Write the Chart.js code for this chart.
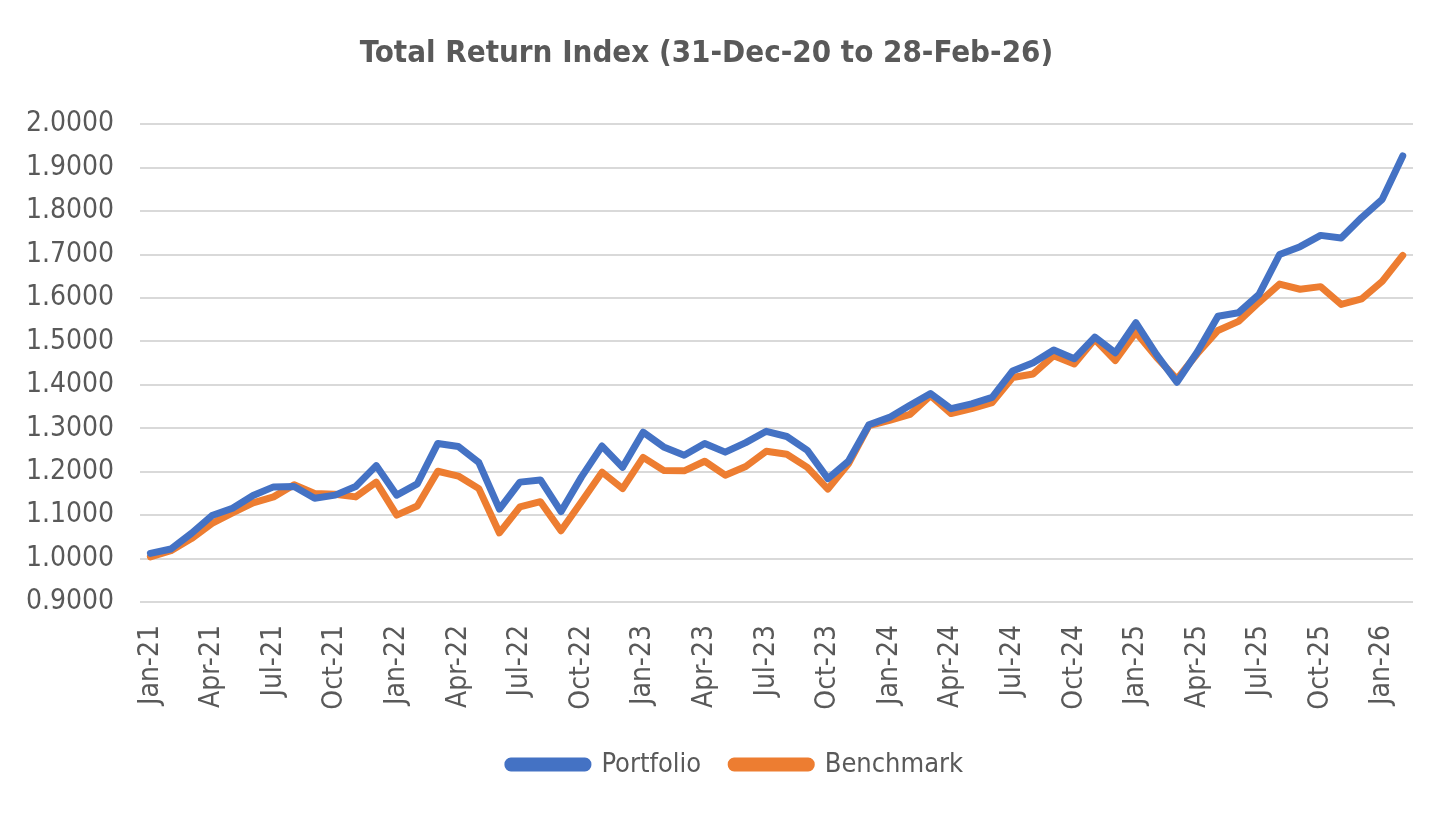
<!DOCTYPE html>
<html lang="en">
<head>
    <meta charset="UTF-8">
    <title>Total Return Index</title>
    <script src="https://cdn.jsdelivr.net/npm/chart.js"></script>
    <style>
        body { margin: 0; background: #fff; }
        #wrap { width: 1456px; height: 816px; }
    </style>
</head>
<body>
    <div id="wrap"><canvas id="chartCanvas"></canvas></div>

    <script>
        // monthly month-end points, Jan-21 .. Feb-26
        const months = [
            'Jan-21','Feb-21','Mar-21','Apr-21','May-21','Jun-21','Jul-21','Aug-21','Sep-21','Oct-21','Nov-21','Dec-21',
            'Jan-22','Feb-22','Mar-22','Apr-22','May-22','Jun-22','Jul-22','Aug-22','Sep-22','Oct-22','Nov-22','Dec-22',
            'Jan-23','Feb-23','Mar-23','Apr-23','May-23','Jun-23','Jul-23','Aug-23','Sep-23','Oct-23','Nov-23','Dec-23',
            'Jan-24','Feb-24','Mar-24','Apr-24','May-24','Jun-24','Jul-24','Aug-24','Sep-24','Oct-24','Nov-24','Dec-24',
            'Jan-25','Feb-25','Mar-25','Apr-25','May-25','Jun-25','Jul-25','Aug-25','Sep-25','Oct-25','Nov-25','Dec-25',
            'Jan-26','Feb-26'
        ];

        const portfolio = [
            1.012, 1.022, 1.058, 1.099, 1.116, 1.145, 1.165, 1.166, 1.139, 1.146, 1.166, 1.214,
            1.146, 1.172, 1.265, 1.258, 1.221, 1.114, 1.176, 1.181, 1.108, 1.188, 1.259, 1.210,
            1.291, 1.257, 1.238, 1.265, 1.245, 1.267, 1.293, 1.281, 1.249, 1.184, 1.224, 1.308,
            1.325, 1.353, 1.380, 1.345, 1.356, 1.371, 1.432, 1.451, 1.480, 1.460, 1.510, 1.474,
            1.543, 1.470, 1.406, 1.476, 1.558, 1.566, 1.608, 1.700, 1.718, 1.744, 1.738, 1.785,
            1.827, 1.927
        ];

        const benchmark = [
            1.004, 1.018, 1.046, 1.081, 1.105, 1.128, 1.142, 1.170, 1.150, 1.148, 1.142, 1.176,
            1.100, 1.121, 1.201, 1.190, 1.161, 1.059, 1.119, 1.131, 1.064, 1.131, 1.199, 1.161,
            1.233, 1.203, 1.202, 1.224, 1.192, 1.212, 1.247, 1.240, 1.210, 1.160, 1.218, 1.306,
            1.318, 1.332, 1.375, 1.334, 1.345, 1.359, 1.417, 1.425, 1.467, 1.448, 1.505, 1.456,
            1.521, 1.464, 1.413, 1.472, 1.525, 1.546, 1.590, 1.632, 1.620, 1.626, 1.585, 1.598,
            1.638, 1.698
        ];

        const FONT = '"Liberation Sans Narrow", "Arial Narrow", "DejaVu Sans Condensed", "Liberation Sans", sans-serif';
        const TEXT = '#595959';

        // nudge the legend a little to the right, like the original
        const legendShift = {
            id: 'legendShift',
            afterLayout(chart) {
                chart.legend.left += 29;
                chart.legend.right += 29;
            }
        };

        const ctx = document.getElementById('chartCanvas').getContext('2d');
        new Chart(ctx, {
            type: 'line',
            data: {
                labels: months,
                datasets: [
                    {
                        label: 'Portfolio',
                        data: portfolio,
                        borderColor: '#4472C4',
                        backgroundColor: '#4472C4',
                        borderWidth: 7,
                        pointRadius: 0,
                        borderJoinStyle: 'round',
                        borderCapStyle: 'round',
                        fill: false
                    },
                    {
                        label: 'Benchmark',
                        data: benchmark,
                        borderColor: '#ED7D31',
                        backgroundColor: '#ED7D31',
                        borderWidth: 7,
                        pointRadius: 0,
                        borderJoinStyle: 'round',
                        borderCapStyle: 'round',
                        fill: false
                    }
                ]
            },
            plugins: [legendShift],
            options: {
                responsive: true,
                maintainAspectRatio: false,
                animation: false,
                layout: { padding: { top: 18, left: 0, right: 43, bottom: 28 } },
                plugins: {
                    title: {
                        display: true,
                        text: 'Total Return Index (31-Dec-20 to 28-Feb-26)',
                        color: TEXT,
                        font: { family: FONT, size: 31, weight: 'bold' },
                        padding: { top: 17, bottom: 52 }
                    },
                    legend: {
                        position: 'bottom',
                        labels: {
                            color: TEXT,
                            font: { family: FONT, size: 27 },
                            boxWidth: 80,
                            boxHeight: 7,
                            useBorderRadius: true,
                            borderRadius: 3,
                            padding: 30
                        }
                    },
                    tooltip: { enabled: false }
                },
                scales: {
                    x: {
                        offset: true,
                        grid: { display: false },
                        border: { display: false },
                        afterFit: function (scale) {
                            // rotated labels should not shrink the plot sideways
                            scale.paddingLeft = 0;
                            scale.paddingRight = 0;
                            scale.height = 119;
                        },
                        ticks: {
                            autoSkip: false,
                            maxRotation: 90,
                            minRotation: 90,
                            padding: 15,
                            color: TEXT,
                            font: { family: FONT, size: 28 },
                            callback: function (val, i) {
                                return i % 3 === 0 ? months[i] : '';
                            }
                        }
                    },
                    y: {
                        min: 0.9,
                        max: 2.0,
                        grid: { color: '#D9D9D9', lineWidth: 2, drawTicks: false },
                        border: { display: false },
                        ticks: {
                            stepSize: 0.1,
                            padding: 26,
                            color: TEXT,
                            font: { family: FONT, size: 28 },
                            callback: v => Number(v).toFixed(4)
                        }
                    }
                }
            }
        });
    </script>
</body>
</html>
